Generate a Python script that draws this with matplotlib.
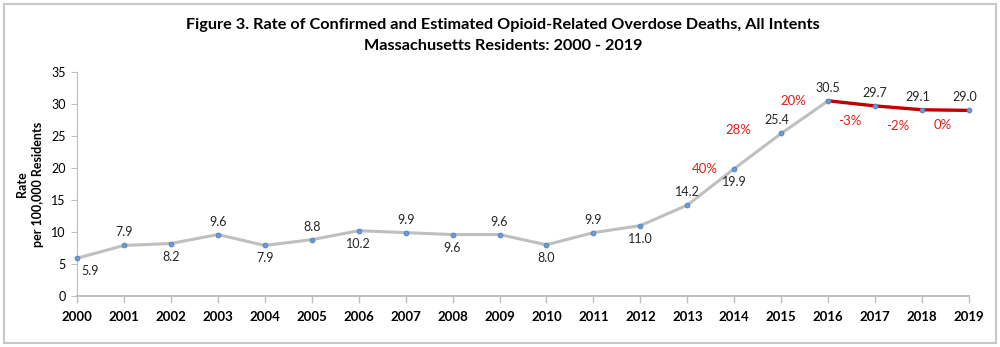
import matplotlib.pyplot as plt
from matplotlib.patches import Rectangle

years = list(range(2000, 2020))
rates = [5.9, 7.9, 8.2, 9.6, 7.9, 8.8, 10.2, 9.9, 9.6, 9.6,
         8.0, 9.9, 11.0, 14.2, 19.9, 25.4, 30.5, 29.7, 29.1, 29.0]
label_side = ['br', 'a', 'b', 'a', 'b', 'a', 'b', 'a', 'b', 'a',
              'b', 'a', 'b', 'a', 'b', 'al', 'a', 'a', 'al', 'al']
pct_years = [2014, 2015, 2016, 2017, 2018, 2019]
pct_labels = ['40%', '28%', '20%', '-3%', '-2%', '0%']
red_start = 2016

plt.rcParams['font.family'] = ['Lato', 'DejaVu Sans']

fig = plt.figure(figsize=(10, 3.47), dpi=100)
ax = fig.add_axes([0.077, 0.147, 0.892, 0.6455])

fig.patches.append(Rectangle((0.004, 0.012), 0.992, 0.976, transform=fig.transFigure,
                             fill=False, edgecolor='#c8c8c8', linewidth=1.5))

i0 = years.index(red_start)
ax.plot(years[:i0 + 1], rates[:i0 + 1], color='#bfbfbf', linewidth=2.2, zorder=2)
ax.plot(years[i0:], rates[i0:], color='#c00000', linewidth=2.4, zorder=2, clip_on=False)
ax.plot(years, rates, linestyle='none', marker='o', markersize=3.5, clip_on=False,
        color='#6a9bd8', markeredgecolor='#4f81bd', markeredgewidth=0.6, zorder=3)

offsets = {'a': (0, 13), 'al': (-4, 13), 'b': (0, -13), 'br': (13, -13)}
for x, y, s in zip(years, rates, label_side):
    ax.annotate('%.1f' % y, (x, y), xytext=offsets[s], textcoords='offset pixels',
                ha='center', va='center', fontsize=9, color='#262626')

pct_off = [(-29, 0), (-43, 3), (-35, 0), (-25, -15), (-24, -16), (-26, -15)]
for x, lab, off in zip(pct_years, pct_labels, pct_off):
    ax.annotate(lab, (x, rates[years.index(x)]), xytext=off, textcoords='offset pixels',
                ha='center', va='center', fontsize=9.5, color='#e0201b')

ax.set_xlim(2000, 2019)
ax.set_ylim(0, 35)
ax.set_xticks(years)
ax.set_xticklabels([str(y) for y in years], fontweight='bold', fontsize=9.5)
ax.set_yticks(range(0, 36, 5))
ax.tick_params(axis='y', labelsize=9, length=4, color='#bfbfbf', pad=4)
ax.tick_params(axis='x', length=5, color='#bfbfbf', pad=6, width=1)
for s in ['top', 'right']:
    ax.spines[s].set_visible(False)
ax.spines['left'].set_color('#bfbfbf')
ax.spines['bottom'].set_color('#bfbfbf')
ax.spines['bottom'].set_linewidth(1.5)

fig.text(0.503, 0.928, 'Figure 3. Rate of Confirmed and Estimated Opioid-Related Overdose Deaths, All Intents',
         ha='center', va='center', fontsize=11.7, fontweight='bold')
fig.text(0.503, 0.868, 'Massachusetts Residents: 2000 - 2019',
         ha='center', va='center', fontsize=11.7, fontweight='bold')
fig.text(0.022, 0.47, 'Rate', rotation=90, ha='center', va='center', fontsize=9, fontweight='bold')
fig.text(0.038, 0.47, 'per 100,000 Residents', rotation=90, ha='center', va='center',
         fontsize=9, fontweight='bold')

fig.savefig('out.png', dpi=100)
